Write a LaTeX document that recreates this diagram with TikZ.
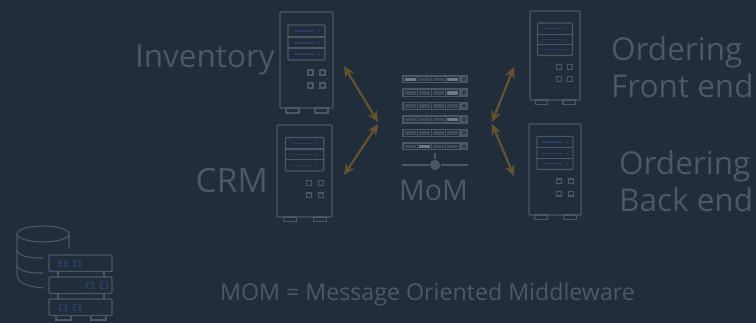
\documentclass[tikz,border=0pt]{standalone}
\usepackage{fontspec}
\setmainfont{Open Sans}
\usetikzlibrary{arrows.meta}
\definecolor{fondmom}{HTML}{222D3C}
\definecolor{traitmom}{HTML}{4C5665}
\definecolor{bleumom}{HTML}{2C3C5E}
\definecolor{clairmom}{HTML}{6E7783}
\definecolor{brunmom}{HTML}{67522F}
\definecolor{textemom}{HTML}{4D5767}
\newcommand{\serveur}[5]{% x y largeur hauteur nom
\begin{scope}[shift={(#1,#2)},xscale=#3/53,yscale=#4/96]
\draw [boitemom,rounded corners=1pt] (0,0) rectangle (53,96);
\draw [boitemom] (6,96) rectangle (19,101);
\draw [boitemom] (35,96) rectangle (48,101);
\draw [boitemom,rounded corners=1pt] (8,13) rectangle (45,48);
\draw [boitemom] (8,25) -- (45,25);
\draw [boitemom] (8,36) -- (45,36);
\foreach \y in {19,31,42} {
    \draw [ligneserveur] (14,\y) -- (34,\y);
    \fill [bleumom] (38.5,\y) circle (1.5);
}
\foreach \x in {28,40}
\foreach \y in {58,71}
    \draw [boitemom] (\x,\y) rectangle (\x+5,\y+5);
\coordinate (#5) at (26.5,48);
\end{scope}
}
\begin{document}
\begin{tikzpicture}[x=1pt,y=-1pt]
% les styles
\tikzstyle boitemom=[color=traitmom,line width=1.1pt]
\tikzstyle ligneserveur=[color=bleumom,line width=1.1pt]
\tikzstyle flechemom=[color=brunmom,line width=2.2pt,{Stealth[length=11pt,width=10pt]}-{Stealth[length=11pt,width=10pt]}]
\tikzstyle labelgrand=[color=textemom,font=\fontsize{31.5}{37}\selectfont,inner sep=0pt]
\tikzstyle labelbloc=[labelgrand,align=left,anchor=west]
\tikzstyle labelmoyen=[color=textemom,font=\fontsize{23.2}{27}\selectfont,inner sep=0pt]
\tikzstyle ligneracks=[fill=traitmom]
\tikzstyle casemom=[color=fondmom,fill=traitmom!70!fondmom,line width=0.7pt]
\tikzstyle caseclaire=[color=fondmom,fill=clairmom,line width=0.7pt]
% le fond
\fill [fondmom] (0,0) rectangle (756,323);
\useasboundingbox (0,0) rectangle (756,323);
% les serveurs
\serveur{280}{12}{53}{96}{srvinventory}
\serveur{277}{125}{55}{92}{srvcrm}
\serveur{530}{11}{50}{89}{srvfront}
\serveur{529}{124}{52}{91}{srvback}
% le rack MoM
\foreach \y in {75,88.4,...,142}
{
    \fill [ligneracks] (402,\y) rectangle (468,\y+8.5);
    \foreach \x in {404.5,418.5,432,446}
        \filldraw [casemom] (\x,\y+2) rectangle (\x+12,\y+6.5);
    \draw [color=fondmom,line width=0.7pt] (464,\y+4.2) circle (1.7);
}
% les cases claires
\filldraw [caseclaire] (404.5,77) rectangle (416.5,81.5);
\filldraw [caseclaire] (446,77) rectangle (458,81.5);
\filldraw [caseclaire] (446,90.4) rectangle (458,94.9);
\filldraw [caseclaire] (446,117.2) rectangle (458,121.7);
\filldraw [caseclaire] (418.5,144) rectangle (430.5,148.5);
\draw [color=traitmom,line width=2pt] (402,165) -- (429,165);
\draw [color=traitmom,line width=2pt] (441,165) -- (468,165);
\draw [color=traitmom,line width=2pt] (435,153) -- (435,159);
\fill [traitmom] (435,165) circle (5.2);
% les textes
\node [labelgrand,anchor=east] (inventory) at (275,60) {Inventory};
\node [labelgrand,anchor=east,font=\fontsize{33.5}{37}\selectfont] (crm) at (268,181) {CRM};
\node [labelgrand,font=\fontsize{28.5}{34}\selectfont] (mom) at (433.5,190) {MoM};
\node [labelbloc] (front) at (611,67) {Ordering\\Front end};
\node [labelbloc] (back) at (619,181) {Ordering\\Back end};
\node [labelmoyen] (legende) at (427.5,294) {MOM = Message Oriented Middleware};
% les flèches
\coordinate (pointinv) at (344,66);
\coordinate (pointcrm) at (344,175);
\coordinate (pointfront) at (514,67);
\coordinate (pointback) at (514,176);
\coordinate (momhg) at (378,122);
\coordinate (mombg) at (378,124);
\coordinate (momhd) at (492,122);
\coordinate (mombd) at (492,124);
\draw [flechemom] (pointinv) -- (momhg);
\draw [flechemom] (pointcrm) -- (mombg);
\draw [flechemom] (pointfront) -- (momhd);
\draw [flechemom] (pointback) -- (mombd);
% la base
\draw [boitemom] (69,249) -- (69,234) arc (0:360:26 and 8);
\draw [boitemom] (17,234) -- (17,274) .. controls (17,284) and (30,287) .. (44,288);
\draw [boitemom] (17,250) .. controls (19,257) and (30,258) .. (43,258);
\draw [boitemom] (17,265) .. controls (19,272) and (30,273) .. (43,273);
% les racks
\foreach \y/\xa in {255/60,277/87,299/60}
{
    \draw [boitemom,rounded corners=1pt] (49,\y) rectangle (112,\y+16.5);
    \draw [color=bleumom,line width=1.1pt] (\xa,\y+5.5) rectangle +(6,6);
    \draw [color=bleumom,line width=1.1pt] (\xa+14,\y+5.5) rectangle +(6,6);
}
\draw [boitemom] (58,271.5) -- (58,277) (104,271.5) -- (104,277);
\draw [boitemom] (58,293.5) -- (58,299) (104,293.5) -- (104,299);
\draw [boitemom] (56,315.5) rectangle (71,320);
\draw [boitemom] (91,315.5) rectangle (106,320);
\end{tikzpicture}
\end{document}
